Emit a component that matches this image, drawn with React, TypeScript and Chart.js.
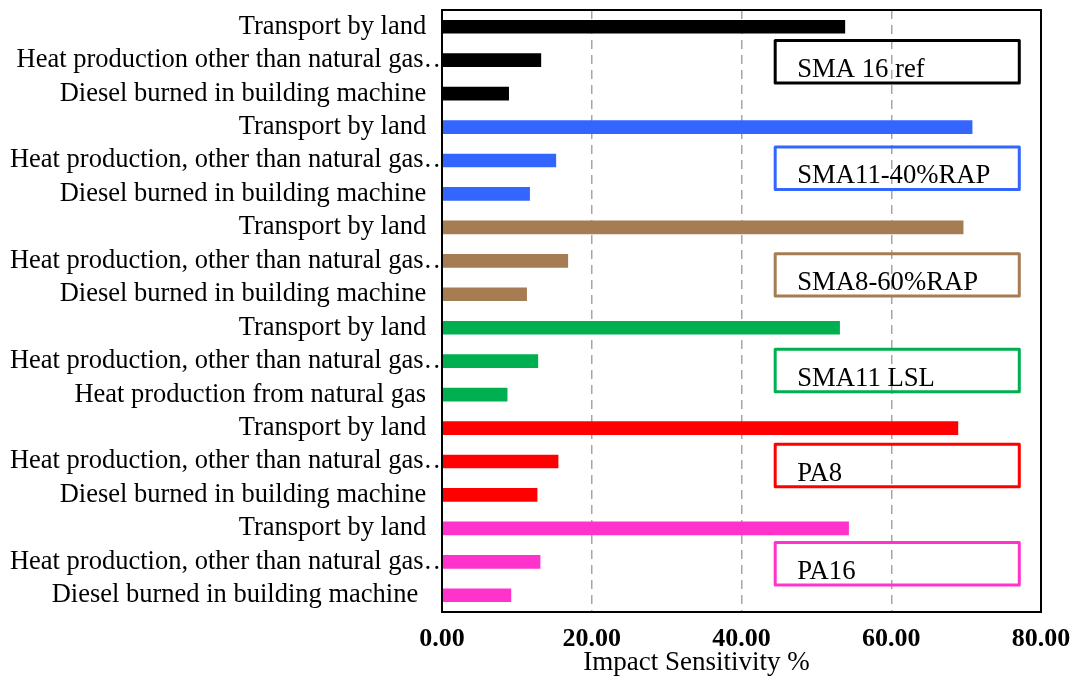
import React, { useEffect, useRef } from "react";
import { Chart, registerables } from "chart.js";

Chart.register(...registerables);

// trailing whitespace keeps plain labels right-aligned left of the axis,
// while labels with an ellipsis run over the axis line as in the original
const PAD = "\u2002\u2009\u2009";
const PAD_LAST = "\u2002\u2002\u2009";

const CATEGORIES = [
  "Transport by land" + PAD,
  "Heat production other than natural gas…",
  "Diesel burned in building machine" + PAD,
  "Transport by land" + PAD,
  "Heat production, other than natural gas…",
  "Diesel burned in building machine" + PAD,
  "Transport by land" + PAD,
  "Heat production, other than natural gas…",
  "Diesel burned in building machine" + PAD,
  "Transport by land" + PAD,
  "Heat production, other than natural gas…",
  "Heat production from natural gas" + PAD,
  "Transport by land" + PAD,
  "Heat production, other than natural gas…",
  "Diesel burned in building machine" + PAD,
  "Transport by land" + PAD,
  "Heat production, other than natural gas…",
  "Diesel burned in building machine" + PAD_LAST,
];

const VALUES = [
  53.8, 13.2, 8.9,
  70.8, 15.2, 11.7,
  69.6, 16.8, 11.3,
  53.1, 12.8, 8.7,
  68.9, 15.5, 12.7,
  54.3, 13.1, 9.2,
];

const GROUP_NAMES = ["SMA 16 ref", "SMA11-40%RAP", "SMA8-60%RAP", "SMA11 LSL", "PA8", "PA16"];
const GROUP_COLORS = ["#000000", "#3366FF", "#A67C52", "#00B050", "#FF0000", "#FF33CC"];
// annotation box placement (category-index centres, value range)
const BOX_CENTERS = [1.05, 4.23, 7.42, 10.28, 13.12, 16.06];
const BOX_X_FROM = 44.5;
const BOX_X_TO = 77.1;
const BOX_HEIGHT_ROWS = 1.27;

const X_TICKS = [0, 20, 40, 60, 80];
const X_TITLE = "Impact Sensitivity %";

const SERIF = "'Liberation Serif', 'Times New Roman', serif";

const annotationPlugin = {
  id: "boxesAndFrame",
  afterDraw(chart: any) {
    const { ctx, chartArea, scales } = chart;
    const xs = scales.x;
    const ys = scales.y;
    ctx.save();
    // frame
    ctx.strokeStyle = "#000";
    ctx.lineWidth = 2;
    ctx.strokeRect(chartArea.left, chartArea.top, chartArea.right - chartArea.left, chartArea.bottom - chartArea.top);
    // boxes
    const rowH = Math.abs(ys.getPixelForValue(1) - ys.getPixelForValue(0));
    GROUP_NAMES.forEach((name, i) => {
      const cy = ys.getPixelForValue(0) + BOX_CENTERS[i] * rowH;
      const h = BOX_HEIGHT_ROWS * rowH;
      const x1 = xs.getPixelForValue(BOX_X_FROM);
      const x2 = xs.getPixelForValue(BOX_X_TO);
      ctx.lineWidth = 3;
      ctx.strokeStyle = GROUP_COLORS[i];
      ctx.lineJoin = "round";
      ctx.strokeRect(x1, cy - h / 2, x2 - x1, h);
      ctx.fillStyle = "#000";
      ctx.font = `26.7px ${SERIF}`;
      ctx.textAlign = "left";
      ctx.textBaseline = "alphabetic";
      ctx.fillText(name, x1 + 22, cy + h / 2 - 6);
    });
    // axis title
    ctx.fillStyle = "#000";
    ctx.font = `27px ${SERIF}`;
    ctx.textAlign = "center";
    ctx.textBaseline = "middle";
    ctx.fillText(X_TITLE, xs.getPixelForValue(34), chartArea.bottom + 51);
    ctx.restore();
  },
};

export default function App() {
  const ref = useRef<HTMLCanvasElement | null>(null);
  useEffect(() => {
    if (!ref.current) return;
    const colors = VALUES.map((_, i) => GROUP_COLORS[Math.floor(i / 3)]);
    const chart = new Chart(ref.current, {
      type: "bar",
      data: {
        labels: CATEGORIES,
        datasets: [
          {
            data: VALUES,
            backgroundColor: colors,
            borderWidth: 0,
            barThickness: 13,
          },
        ],
      },
      options: {
        indexAxis: "y",
        animation: false,
        responsive: false,
        maintainAspectRatio: false,
        layout: { padding: { top: 10, right: 29, left: 0, bottom: 0 } },
        plugins: { legend: { display: false }, tooltip: { enabled: false } },
        scales: {
          x: {
            min: 0,
            max: 80,
            afterBuildTicks: (scale: any) => {
              scale.ticks = X_TICKS.map((v) => ({ value: v }));
            },
            afterFit: (scale: any) => {
              scale.height = 67;
              scale.paddingLeft = 0;
              scale.paddingRight = 0;
            },
            ticks: {
              color: "#000",
              padding: 12,
              font: { family: SERIF, size: 26, weight: "bold" },
              callback: (v: any) => Number(v).toFixed(2),
              maxRotation: 0,
            },
            grid: {
              drawTicks: false,
              tickLength: 0,
              lineWidth: 1.5,
              color: (c: any) => (c.tick && (c.tick.value === 0 || c.tick.value === 80) ? "rgba(0,0,0,0)" : "#A6A6A6"),
            },
            border: { display: false, dash: [9, 6] },
          },
          y: {
            afterFit: (scale: any) => {
              scale.width = 442;
              scale.paddingTop = 0;
              scale.paddingBottom = 0;
            },
            ticks: {
              color: "#000",
              padding: -8,
              autoSkip: false,
              font: { family: SERIF, size: 26.5 },
            },
            grid: { display: false, drawTicks: false, tickLength: 0 },
            border: { display: false },
          },
        },
      },
      plugins: [annotationPlugin],
    } as any);
    return () => chart.destroy();
  }, []);
  return (
    <div style={{ position: "absolute", left: 0, top: 0, width: 1070, height: 679, background: "#fff" }}>
      <canvas ref={ref} width={1070} height={679} style={{ width: 1070, height: 679, display: "block" }} />
    </div>
  );
}
